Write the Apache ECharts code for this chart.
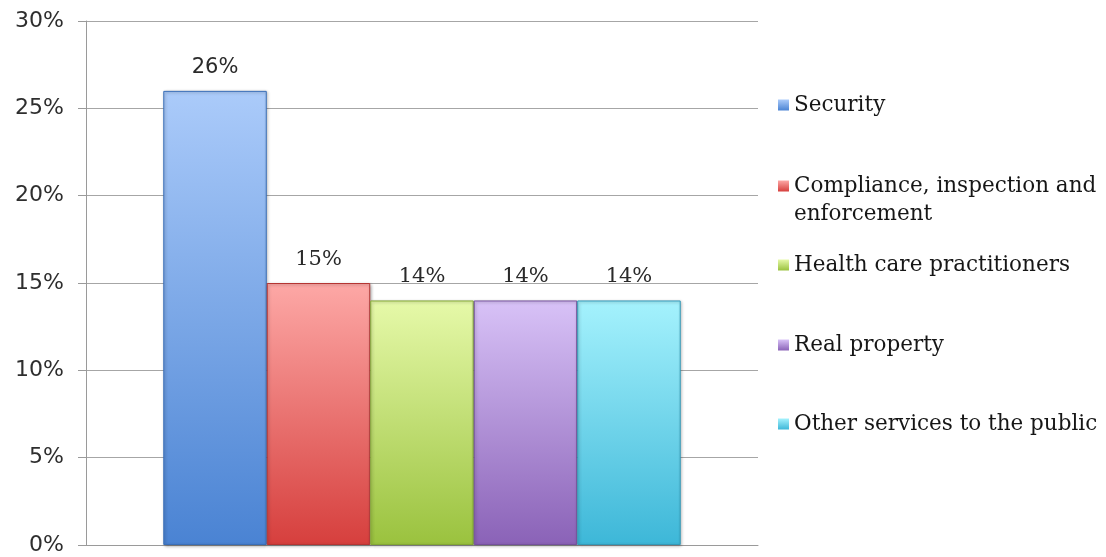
<!DOCTYPE html>
<html>
<head>
<meta charset="utf-8">
<script src="https://cdn.jsdelivr.net/npm/echarts@6/dist/echarts.min.js"></script>
<style>
  html, body { margin: 0; padding: 0; background: #ffffff; }
  #chart { width: 1106px; height: 557px; }
</style>
</head>
<body>
<div id="chart"></div>
<script>
// Share of responses by occupational area (%)
const categories = ['Share'];
const seriesNames = [
  'Security',
  'Compliance, inspection and enforcement',
  'Health care practitioners',
  'Real property',
  'Other services to the public'
];
const seriesValues = [26, 15, 14, 14, 14];
const yTicks = [0, 5, 10, 15, 20, 25, 30];

// top / bottom shades of each bar's vertical gradient, plus a darker edge
const topColors = ['#abcbfa', '#fda8a6', '#e6f9a9', '#d8c2f7', '#a5f2fd'];
const bottomColors = ['#4a83d3', '#d63f3d', '#9ac23e', '#8a62b7', '#3db7d8'];
const edgeColors = ['#3a6fb8', '#b53533', '#82a833', '#74519c', '#3399b8'];
const labelFonts = ['DejaVu Sans', 'DejaVu Serif', 'DejaVu Serif', 'DejaVu Serif', 'DejaVu Serif'];

// legend label text (long name wrapped onto two lines, a blank first line keeps the marker on the first text line)
const legendText = {
  'Compliance, inspection and enforcement': ' \nCompliance, inspection and\nenforcement'
};
const legendCenters = [105, 186, 265, 345, 424];

function gradient(i) {
  return new echarts.graphic.LinearGradient(0, 0, 0, 1, [
    { offset: 0, color: topColors[i] },
    { offset: 1, color: bottomColors[i] }
  ]);
}

const chart = echarts.init(document.getElementById('chart'), null, { renderer: 'canvas' });

const series = seriesNames.map((name, i) => ({
  name: name,
  type: 'bar',
  barGap: 0,
  barCategoryGap: '23%',
  data: [seriesValues[i]],
  itemStyle: {
    color: gradient(i),
    borderColor: edgeColors[i],
    borderWidth: 1,
    shadowColor: 'rgba(0,0,0,0.3)',
    shadowBlur: 3,
    shadowOffsetX: 1,
    shadowOffsetY: 1
  },
  label: {
    show: true,
    position: 'top',
    distance: 13,
    formatter: '{c}%',
    fontFamily: labelFonts[i],
    fontSize: 21,
    color: '#2a2a2a'
  }
}));

const legends = seriesNames.map((name, i) => {
  const multi = !!legendText[name];
  const lines = multi ? 3 : 1;
  return {
    data: [name],
    orient: 'vertical',
    left: 778,
    top: legendCenters[i] - (lines * 28) / 2,
    padding: 0,
    itemWidth: 11,
    itemHeight: 11,
    icon: 'rect',
    selectedMode: false,
    itemStyle: { borderWidth: 0, shadowBlur: 0, shadowOffsetX: 0, shadowOffsetY: 0 },
    formatter: n => legendText[n] || n,
    textStyle: {
      fontFamily: 'DejaVu Serif',
      fontSize: 21.5,
      lineHeight: 28,
      color: '#161616'
    }
  };
});

chart.setOption({
  animation: false,
  backgroundColor: '#ffffff',
  legend: legends,
  grid: { left: 86, right: 348, top: 21, bottom: 12, containLabel: false },
  xAxis: {
    type: 'category',
    data: categories,
    axisLine: { show: true, lineStyle: { color: '#9a9a9a', width: 1 } },
    axisTick: { show: false },
    axisLabel: { show: false }
  },
  yAxis: {
    type: 'value',
    min: yTicks[0],
    max: yTicks[yTicks.length - 1],
    interval: yTicks[1] - yTicks[0],
    axisLine: { show: true, lineStyle: { color: '#9a9a9a', width: 1 } },
    axisTick: { show: true, length: 8, lineStyle: { color: '#9a9a9a', width: 1 } },
    axisLabel: {
      formatter: '{value}%',
      margin: 22,
      fontFamily: 'DejaVu Sans',
      fontSize: 22,
      color: '#2e2e2e'
    },
    splitLine: { show: true, lineStyle: { color: '#a6a6a6', width: 1 } }
  },
  series: series
});
</script>
</body>
</html>
